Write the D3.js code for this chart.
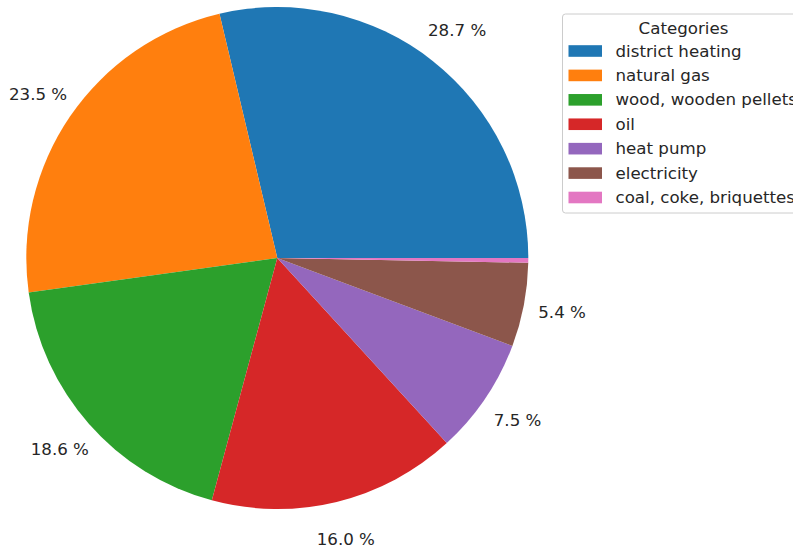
<!DOCTYPE html>
<html lang="en">
<head>
    <meta charset="UTF-8">
    <title>Heating Categories Pie</title>
    <script src="https://d3js.org/d3.v7.min.js"></script>
    <style>
        body {
            margin: 0;
            background: #ffffff;
            font-family: "DejaVu Sans", sans-serif;
        }
        #chart {
            width: 793px;
            height: 546px;
            overflow: hidden;
        }
        .pct-label {
            font-size: 16.67px;
            fill: #262626;
        }
        .legend-text {
            font-size: 16.67px;
            fill: #262626;
        }
    </style>
</head>
<body>
    <div id="chart"></div>

    <script>
        const categories = ["district heating", "natural gas", "wood, wooden pellets", "oil", "heat pump", "electricity", "coal, coke, briquettes"];
        const shares = [28.7, 23.5, 18.6, 16.0, 7.5, 5.4, 0.3];
        const colors = ["#1f77b4", "#ff7f0e", "#2ca02c", "#d62728", "#9467bd", "#8c564b", "#e377c2"];

        const width = 793, height = 546;
        const cx = 277.3, cy = 258, radius = 251;
        const pctDistance = 1.155;

        const svg = d3.select("#chart")
            .append("svg")
            .attr("width", width)
            .attr("height", height);

        const data = categories.map((name, i) => ({ name, value: shares[i], color: colors[i] }));

        // matplotlib style: start at 3 o'clock and go counterclockwise.
        // d3 angles are clockwise from 12 o'clock, so map with a = PI/2 - theta
        const pie = d3.pie()
            .value(d => d.value)
            .sort(null)
            .startAngle(Math.PI / 2)
            .endAngle(Math.PI / 2 - 2 * Math.PI);

        const arcs = pie(data);

        const arc = d3.arc()
            .innerRadius(0)
            .outerRadius(radius);

        const g = svg.append("g")
            .attr("transform", `translate(${cx},${cy})`);

        g.selectAll("path")
            .data(arcs)
            .enter().append("path")
            .attr("d", arc)
            .attr("fill", d => d.data.color);

        const total = d3.sum(shares);

        g.selectAll(".pct-label")
            .data(arcs.filter(d => d.data.value / total * 100 >= 1))
            .enter().append("text")
            .attr("class", "pct-label")
            .attr("text-anchor", "middle")
            .attr("dominant-baseline", "central")
            .attr("x", d => {
                const a = (d.startAngle + d.endAngle) / 2;
                return Math.sin(a) * radius * pctDistance;
            })
            .attr("y", d => {
                const a = (d.startAngle + d.endAngle) / 2;
                return -Math.cos(a) * radius * pctDistance;
            })
            .text(d => (d.data.value / total * 100).toFixed(1) + " %");

        // legend
        const legend = svg.append("g")
            .attr("transform", "translate(562.5,14)");

        legend.append("rect")
            .attr("x", 0)
            .attr("y", 0)
            .attr("width", 260)
            .attr("height", 199)
            .attr("rx", 3)
            .attr("fill", "#ffffff")
            .attr("fill-opacity", 0.8)
            .attr("stroke", "#cccccc");

        legend.append("text")
            .attr("class", "legend-text")
            .attr("x", 121)
            .attr("y", 14)
            .attr("text-anchor", "middle")
            .attr("dominant-baseline", "central")
            .text("Categories");

        const rowY = d3.scalePoint()
            .domain(categories)
            .range([37, 183.5]);

        const rows = legend.selectAll(".legend-row")
            .data(data)
            .enter().append("g")
            .attr("class", "legend-row")
            .attr("transform", d => `translate(0,${rowY(d.name)})`);

        rows.append("rect")
            .attr("x", 6)
            .attr("y", -5.8)
            .attr("width", 33.5)
            .attr("height", 11.6)
            .attr("fill", d => d.color);

        rows.append("text")
            .attr("class", "legend-text")
            .attr("x", 53)
            .attr("y", 0)
            .attr("dominant-baseline", "central")
            .text(d => d.name);
    </script>
</body>
</html>
